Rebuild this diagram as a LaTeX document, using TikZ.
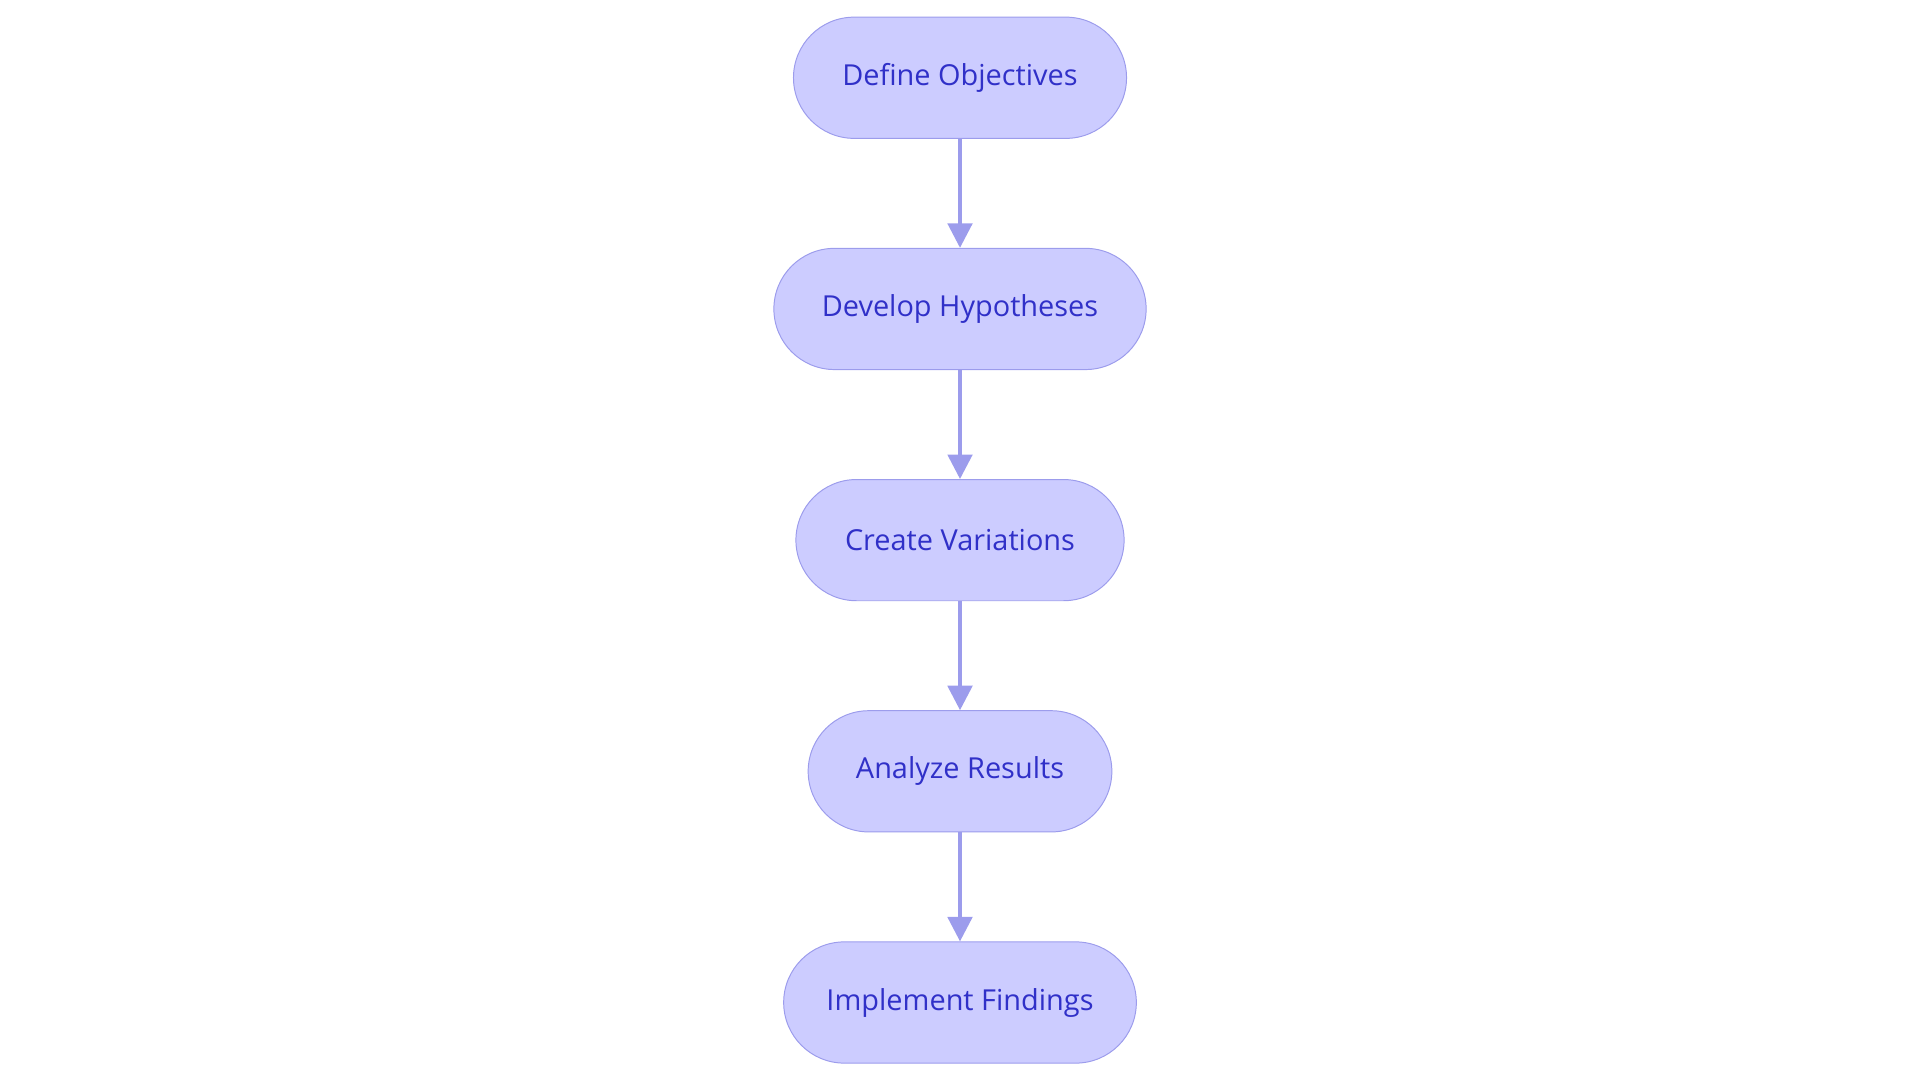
\documentclass[tikz,border=0pt]{standalone}
\usepackage{fontspec}
\setmainfont{Open Sans}
\usetikzlibrary{positioning,arrows.meta}
\definecolor{stagefill}{HTML}{CCCCFF}
\definecolor{stageline}{HTML}{9C9CEC}
\definecolor{stagetext}{HTML}{3030C8}
\begin{document}
\begin{tikzpicture}[x=0.5pt,y=-0.5pt,
    stage/.style={draw=stageline, fill=stagefill, text=stagetext, rounded corners=24.75pt,
        minimum height=49.5pt, font=\fontsize{11.8}{13}\selectfont},
    flow/.style={-{Triangle[length=10pt,width=10pt]}, draw=stageline, fill=stageline, line width=1.5pt},
    node distance=44.5pt]
    \useasboundingbox (0,0) rectangle (1568,884);
    % Etapas
    \node[stage, minimum width=136pt] (obj) at (784,63.5) {Define Objectives};
    \node[stage, minimum width=152pt, below=of obj] (hyp) {Develop Hypotheses};
    \node[stage, minimum width=134pt, below=of hyp] (var) {Create Variations};
    \node[stage, minimum width=124pt, below=of var] (res) {Analyze Results};
    \node[stage, minimum width=144pt, below=of res] (imp) {Implement Findings};
    % Setas
    \draw[flow] (obj) -- (hyp);
    \draw[flow] (hyp) -- (var);
    \draw[flow] (var) -- (res);
    \draw[flow] (res) -- (imp);
\end{tikzpicture}
\end{document}
